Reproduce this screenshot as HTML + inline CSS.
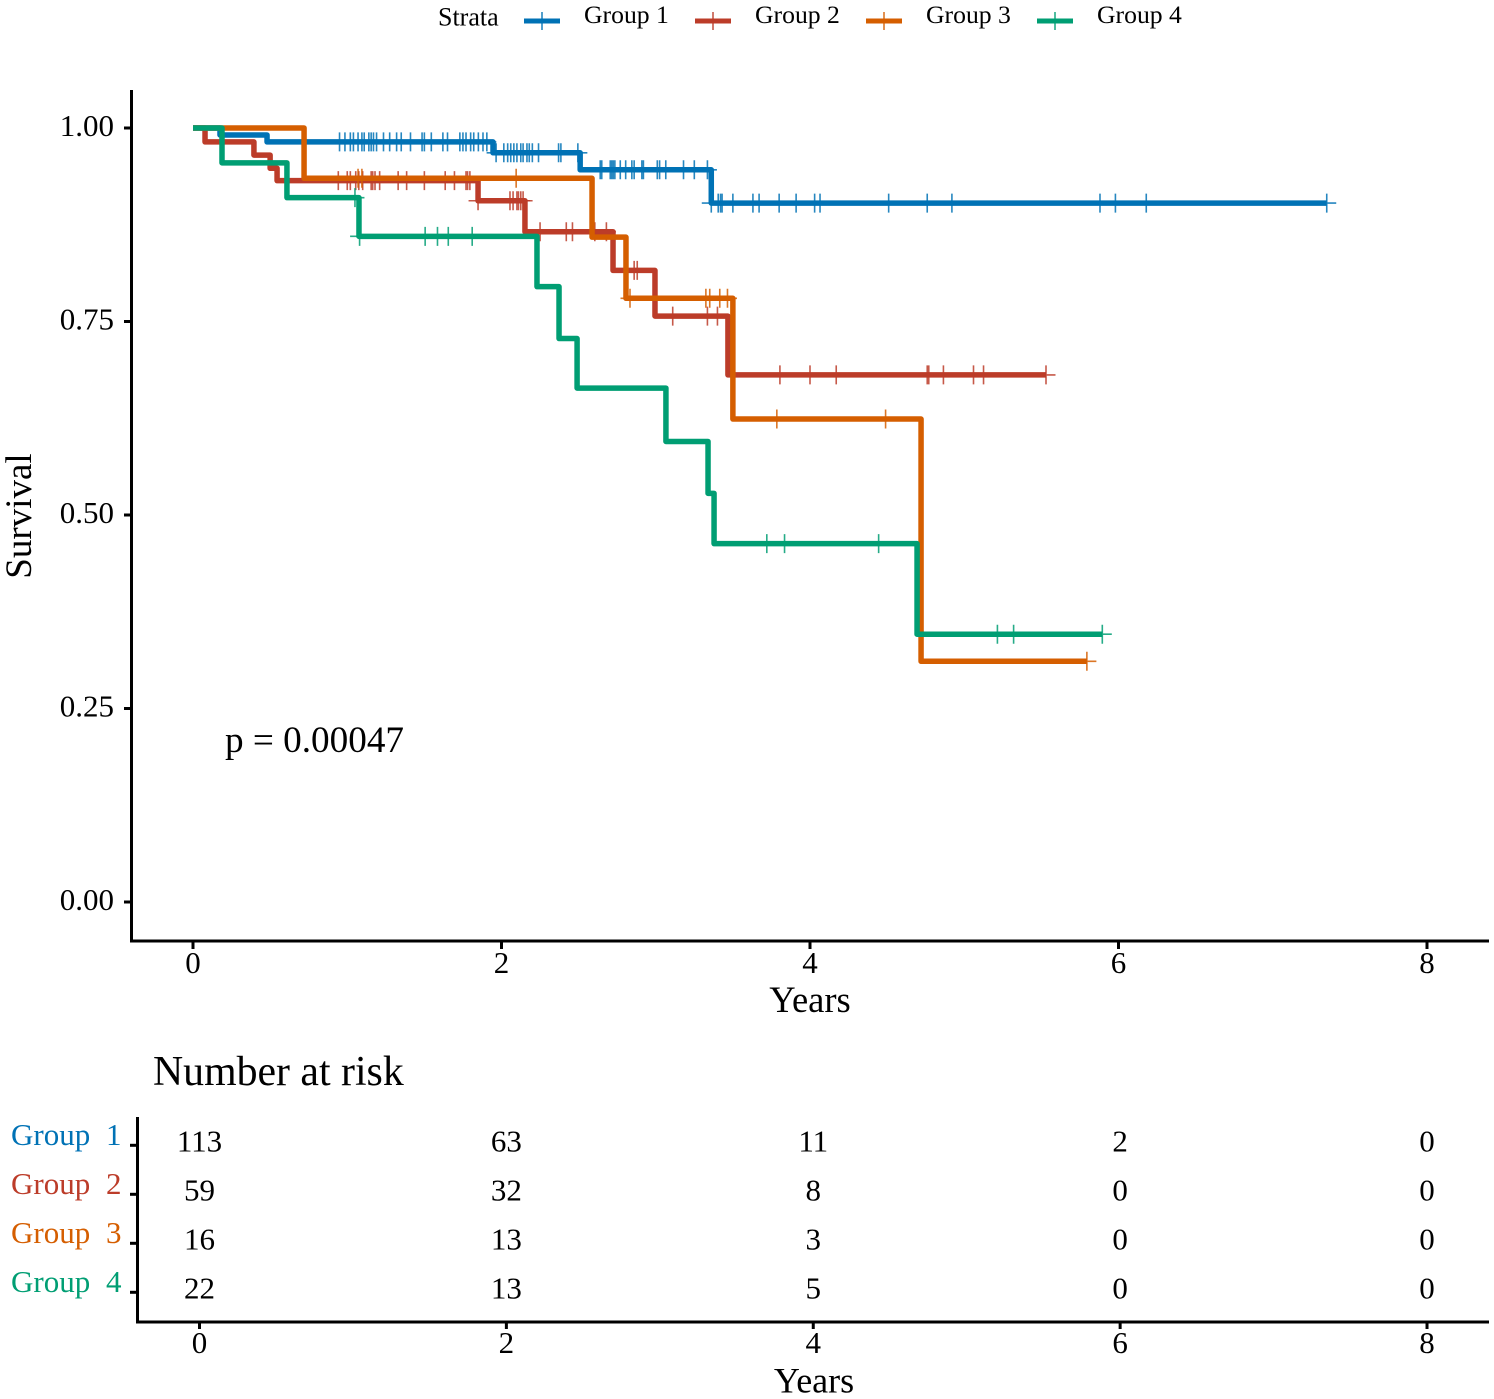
<!DOCTYPE html>
<html lang="en">
<head>
<meta charset="utf-8">
<title>Survival curves</title>
<style>
html,body{margin:0;padding:0;background:#fff;}
svg{display:block;font-family:"Liberation Serif",serif;}
</style>
</head>
<body>
<svg id="chart" xmlns="http://www.w3.org/2000/svg" width="1494" height="1399" viewBox="0 0 1494 1399">
  <rect x="0" y="0" width="1494" height="1399" fill="#fff"/>

  <g id="legend">
    <text x="438" y="25.5" font-size="26" fill="#000">Strata</text>
    <text x="584" y="23" font-size="25.7" fill="#000">Group 1</text>
    <text x="755" y="23" font-size="25.7" fill="#000">Group 2</text>
    <text x="926" y="23" font-size="25.7" fill="#000">Group 3</text>
    <text x="1097" y="23" font-size="25.7" fill="#000">Group 4</text>
  </g>

  <g id="main-axes"></g>
  <g id="curves"></g>

  <text transform="translate(31,516) rotate(-90)" text-anchor="middle" font-size="37" fill="#000">Survival</text>
  <text x="810" y="1012" text-anchor="middle" font-size="36.5" fill="#000">Years</text>
  <text x="225" y="752" font-size="37.2" fill="#000">p = 0.00047</text>

  <text x="153" y="1085" font-size="41.8" fill="#000">Number at risk</text>
  <g id="risk-table"></g>
  <text x="814" y="1392.5" text-anchor="middle" font-size="36" fill="#000">Years</text>
</svg>

<script>
const groupNames = ["Group 1", "Group 2", "Group 3", "Group 4"];
const groupColors = ["#0072B5", "#BC3C29", "#D55E00", "#009E73"];

const yTicks = [0, 0.25, 0.5, 0.75, 1];
const yTickLabels = ["0.00", "0.25", "0.50", "0.75", "1.00"];
const xTicks = [0, 2, 4, 6, 8];
const xTickLabels = ["0", "2", "4", "6", "8"];

const group1Times = [0, 0.175, 0.48, 1.945, 2.51, 3.36];
const group1Surv = [1, 0.991, 0.982, 0.968, 0.946, 0.903];
const group1End = 7.35;
const group1Censor = [0.95,0.985,1.02,1.04,1.07,1.095,1.11,1.14,1.155,1.17,1.19,1.235,1.275,1.32,1.35,1.41,1.485,1.5,1.545,1.62,1.65,1.73,1.75,1.77,1.8,1.82,1.85,1.88,1.905,1.965,2.015,2.04,2.06,2.08,2.1,2.125,2.14,2.165,2.18,2.2,2.24,2.37,2.385,2.495,2.64,2.65,2.705,2.715,2.725,2.735,2.77,2.805,2.845,2.86,2.91,2.92,3.01,3.025,3.065,3.18,3.25,3.335,3.36,3.405,3.42,3.43,3.5,3.63,3.67,3.8,3.91,4.03,4.065,4.51,4.76,4.92,5.88,5.98,6.18,7.35];

const group2Times = [0, 0.078, 0.395, 0.5, 0.545, 1.848, 2.152, 2.723, 2.995, 3.468];
const group2Surv = [1, 0.982, 0.965, 0.948, 0.932, 0.906, 0.866, 0.816, 0.757, 0.681];
const group2End = 5.53;
const group2Censor = [0.942,1,1.02,1.055,1.075,1.1,1.155,1.165,1.18,1.21,1.33,1.385,1.5,1.635,1.695,1.77,1.78,1.795,1.848,2.055,2.075,2.1,2.11,2.125,2.14,2.25,2.42,2.46,2.605,2.68,2.86,2.88,3.11,3.335,3.4,3.805,4,4.17,4.76,4.77,4.865,5.06,5.125,5.53];

const group3Times = [0, 0.72, 2.587, 2.807, 3.5, 4.72];
const group3Surv = [1, 0.935, 0.859, 0.78, 0.624, 0.311];
const group3End = 5.795;
const group3Censor = [1.07,1.095,2.095,2.833,3.325,3.35,3.415,3.465,3.785,4.49,5.795];

const group4Times = [0, 0.188, 0.609, 1.076, 2.23, 2.373, 2.49, 3.066, 3.339, 3.378, 4.694];
const group4Surv = [1, 0.955, 0.91, 0.86, 0.795, 0.728, 0.664, 0.595, 0.528, 0.463, 0.346];
const group4End = 5.895;
const group4Censor = [1.05,1.08,1.505,1.585,1.655,1.81,3.72,3.835,4.445,5.215,5.32,5.895];

const riskGroup1 = [113, 63, 11, 2, 0];
const riskGroup2 = [59, 32, 8, 0, 0];
const riskGroup3 = [16, 13, 3, 0, 0];
const riskGroup4 = [22, 13, 5, 0, 0];

const NS = "http://www.w3.org/2000/svg";
const xScale = function (t) { return 193 + t * 154.25; };
const yScale = function (s) { return 902 - s * 774; };
const tableX = function (t) { return 199.5 + t * 153.44; };
const tableRowY = function (i) { return 1145.3 + i * 49; };

function make(parent, tag, attrs, text) {
  const el = document.createElementNS(NS, tag);
  Object.keys(attrs).forEach(function (k) { el.setAttribute(k, attrs[k]); });
  if (text !== undefined) el.textContent = text;
  parent.appendChild(el);
  return el;
}

function slug(s) { return s.toLowerCase().replace(/\s+/g, "-"); }

const allTimes = [group1Times, group2Times, group3Times, group4Times];
const allSurv = [group1Surv, group2Surv, group3Surv, group4Surv];
const allEnds = [group1End, group2End, group3End, group4End];
const allCensor = [group1Censor, group2Censor, group3Censor, group4Censor];
const allRisk = [riskGroup1, riskGroup2, riskGroup3, riskGroup4];

function survAt(times, surv, t) {
  let v = surv[0];
  for (let i = 0; i < times.length; i++) { if (t >= times[i]) v = surv[i]; }
  return v;
}

/* Legend keys */
const legend = document.getElementById("legend");
groupNames.forEach(function (name, i) {
  const cx = 542 + i * 171;
  const key = make(legend, "g", {});
  
  
  make(key, "line", { x1: cx - 18, x2: cx + 18, y1: 21, y2: 21, stroke: groupColors[i], "stroke-width": 5 });
  make(key, "line", { x1: cx, x2: cx, y1: 12, y2: 30, stroke: groupColors[i], "stroke-width": 1.6, opacity: 0.85 });
});

/* Main axes */
const axes = document.getElementById("main-axes");
const yAxisLine = make(axes, "line", { x1: 131.5, x2: 131.5, y1: 90, y2: 942.5, stroke: "#000", "stroke-width": 3 });


const xAxisLine = make(axes, "line", { x1: 130, x2: 1489, y1: 941, y2: 941, stroke: "#000", "stroke-width": 3 });



yTicks.forEach(function (v, i) {
  const y = yScale(v);
  const tick = make(axes, "line", { x1: 124, x2: 131, y1: y, y2: y, stroke: "#000", "stroke-width": 3 });
  
  
  const label = make(axes, "text", { x: 114, y: y + 8, "text-anchor": "end", "font-size": 31, fill: "#000" }, yTickLabels[i]);
  
  
});

xTicks.forEach(function (v, i) {
  const x = xScale(v);
  const tick = make(axes, "line", { x1: x, x2: x, y1: 941, y2: 949, stroke: "#000", "stroke-width": 3 });
  
  
  const label = make(axes, "text", { x: x, y: 973, "text-anchor": "middle", "font-size": 31, fill: "#000" }, xTickLabels[i]);
  
  
});

/* Curves */
const curves = document.getElementById("curves");
groupNames.forEach(function (name, g) {
  const times = allTimes[g];
  const surv = allSurv[g];
  const color = groupColors[g];
  const series = make(curves, "g", {});
  
  

  let d = "M" + xScale(times[0]) + " " + yScale(surv[0]);
  for (let i = 1; i < times.length; i++) {
    d += "H" + xScale(times[i]) + "V" + yScale(surv[i]);
  }
  d += "H" + xScale(allEnds[g]);
  const line = make(series, "path", { d: d, fill: "none", stroke: color, "stroke-width": 5.5, "stroke-linejoin": "round" });
  
  

  allCensor[g].forEach(function (t) {
    const x = xScale(t);
    const y = yScale(survAt(times, surv, t));
    const mark = make(series, "path", {
      d: "M" + (x - 9.5) + " " + y + "H" + (x + 9.5) + "M" + x + " " + (y - 9.5) + "V" + (y + 9.5),
      fill: "none", stroke: color, "stroke-width": 1.6, opacity: 0.85
    });
    
    
  });
});

/* Risk table */
const table = document.getElementById("risk-table");
const tableYAxis = make(table, "line", { x1: 137.5, x2: 137.5, y1: 1117, y2: 1323.5, stroke: "#000", "stroke-width": 3 });


const tableXAxis = make(table, "line", { x1: 136, x2: 1489, y1: 1322, y2: 1322, stroke: "#000", "stroke-width": 3 });



groupNames.forEach(function (name, g) {
  const y = tableRowY(g);
  const tick = make(table, "line", { x1: 130, x2: 137, y1: y, y2: y, stroke: "#000", "stroke-width": 3 });
  
  
  const parts = name.split(" ");
  const rowLabel = make(table, "text", { x: 11, y: y - 0.5, "font-size": 31, fill: groupColors[g] }, parts[0]);
  
  
  const rowNum = make(table, "text", { x: 106, y: y - 0.5, "font-size": 31, fill: groupColors[g] }, parts[1]);
  
  
  allRisk[g].forEach(function (n, c) {
    const cell = make(table, "text", { x: tableX(xTicks[c]), y: y + 6, "text-anchor": "middle", "font-size": 31, fill: "#000" }, String(n));
    
    
  });
});

xTicks.forEach(function (v, i) {
  const x = tableX(v);
  const tick = make(table, "line", { x1: x, x2: x, y1: 1322, y2: 1329, stroke: "#000", "stroke-width": 3 });
  
  
  const label = make(table, "text", { x: x, y: 1353, "text-anchor": "middle", "font-size": 31, fill: "#000" }, xTickLabels[i]);
  
  
});
</script>
</body>
</html>
